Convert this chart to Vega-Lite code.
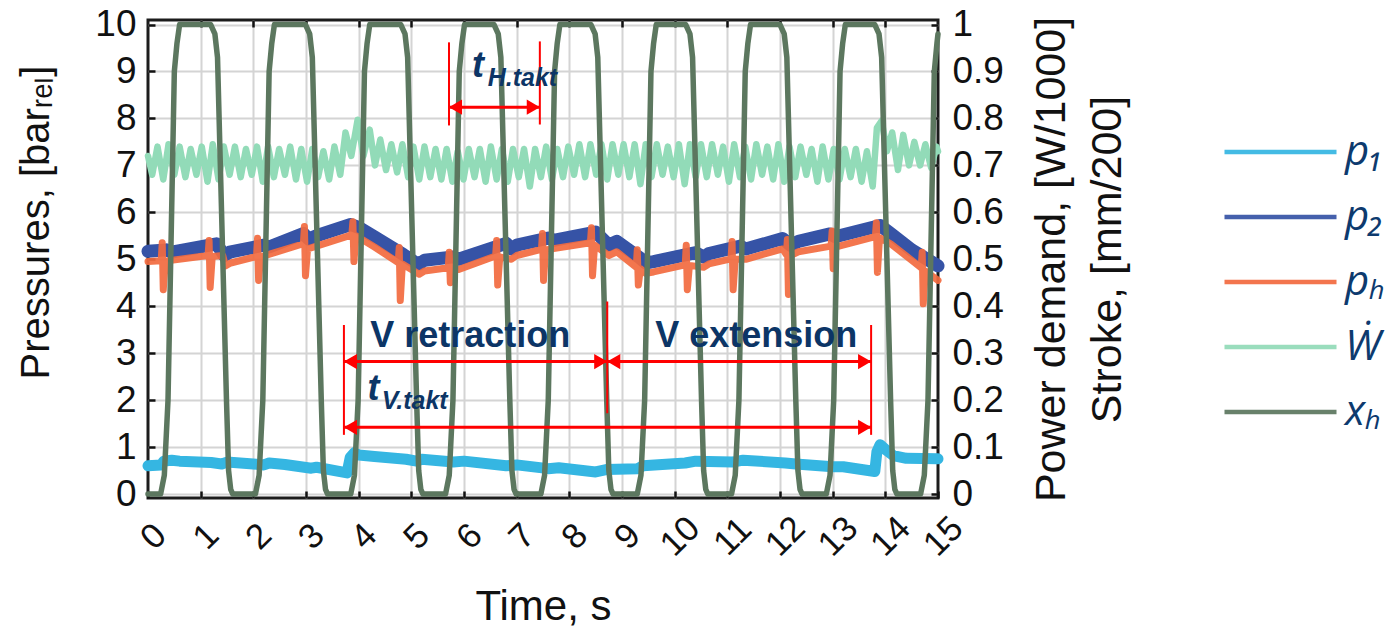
{
  "$schema": "https://vega.github.io/schema/vega-lite/v6.json",
  "width": 790,
  "height": 478,
  "autosize": {"type": "none"},
  "padding": {"left": 148, "top": 20, "right": 448, "bottom": 136},
  "background": "white",
  "config": {
    "view": {"stroke": "#1c1c1c", "strokeWidth": 3},
    "font": "Liberation Sans",
    "axis": {
      "labelFont": "Liberation Sans",
      "labelFontSize": 37,
      "labelColor": "#111111",
      "tickColor": "#111111",
      "tickWidth": 2.5,
      "tickSize": -7,
      "domain": false,
      "gridColor": "#d4d4d4",
      "gridWidth": 2,
      "titleFont": "Liberation Sans",
      "titleFontSize": 40,
      "titleFontWeight": "normal",
      "titleColor": "#111111",
      "labelFlush": false,
      "labelOverlap": false,
      "labelBound": false
    }
  },
  "datasets": {
    "p1": [
      {"t": 0.0, "v": 0.6}, {"t": 0.25, "v": 0.62}, {"t": 0.3, "v": 0.7}, {"t": 0.45, "v": 0.72},
      {"t": 0.6, "v": 0.7}, {"t": 1.2, "v": 0.67}, {"t": 1.4, "v": 0.64}, {"t": 1.5, "v": 0.68},
      {"t": 2.0, "v": 0.64}, {"t": 2.2, "v": 0.62}, {"t": 2.3, "v": 0.66}, {"t": 2.6, "v": 0.63},
      {"t": 3.1, "v": 0.55}, {"t": 3.2, "v": 0.57}, {"t": 3.78, "v": 0.45}, {"t": 3.84, "v": 0.78},
      {"t": 3.92, "v": 0.88}, {"t": 4.0, "v": 0.83}, {"t": 4.3, "v": 0.8}, {"t": 4.9, "v": 0.74},
      {"t": 5.1, "v": 0.7}, {"t": 5.2, "v": 0.74}, {"t": 5.8, "v": 0.68}, {"t": 6.0, "v": 0.7},
      {"t": 6.8, "v": 0.6}, {"t": 7.0, "v": 0.62}, {"t": 7.6, "v": 0.54}, {"t": 7.8, "v": 0.56},
      {"t": 8.5, "v": 0.47}, {"t": 8.7, "v": 0.52}, {"t": 9.3, "v": 0.54}, {"t": 9.4, "v": 0.6},
      {"t": 10.2, "v": 0.66}, {"t": 10.4, "v": 0.7}, {"t": 11.1, "v": 0.68}, {"t": 11.3, "v": 0.72},
      {"t": 12.1, "v": 0.66}, {"t": 12.3, "v": 0.64}, {"t": 13.0, "v": 0.58}, {"t": 13.2, "v": 0.58},
      {"t": 13.8, "v": 0.48}, {"t": 13.84, "v": 0.9}, {"t": 13.9, "v": 1.05}, {"t": 14.0, "v": 0.95},
      {"t": 14.15, "v": 0.82}, {"t": 14.4, "v": 0.76}, {"t": 15.0, "v": 0.75}
    ],
    "p2": [
      {"t": 0.0, "v": 5.17}, {"t": 0.35, "v": 5.2}, {"t": 0.45, "v": 5.15}, {"t": 1.3, "v": 5.33},
      {"t": 1.45, "v": 5.08}, {"t": 1.55, "v": 5.15}, {"t": 2.2, "v": 5.3}, {"t": 2.3, "v": 5.26},
      {"t": 2.95, "v": 5.55}, {"t": 3.05, "v": 5.43}, {"t": 3.2, "v": 5.5}, {"t": 3.85, "v": 5.74},
      {"t": 4.0, "v": 5.68}, {"t": 4.3, "v": 5.48}, {"t": 4.85, "v": 5.1}, {"t": 5.05, "v": 4.95},
      {"t": 5.15, "v": 4.9}, {"t": 5.25, "v": 4.98}, {"t": 5.8, "v": 5.05}, {"t": 5.9, "v": 5.0},
      {"t": 6.8, "v": 5.34}, {"t": 6.9, "v": 5.22}, {"t": 7.0, "v": 5.3}, {"t": 7.6, "v": 5.45},
      {"t": 7.7, "v": 5.4}, {"t": 8.5, "v": 5.58}, {"t": 8.75, "v": 5.3}, {"t": 8.9, "v": 5.38},
      {"t": 9.35, "v": 5.02}, {"t": 9.45, "v": 4.92}, {"t": 9.6, "v": 4.95}, {"t": 10.4, "v": 5.14},
      {"t": 10.55, "v": 5.05}, {"t": 10.65, "v": 5.12}, {"t": 11.25, "v": 5.28}, {"t": 11.35, "v": 5.22},
      {"t": 12.05, "v": 5.44}, {"t": 12.2, "v": 5.3}, {"t": 12.35, "v": 5.38}, {"t": 12.95, "v": 5.54},
      {"t": 13.05, "v": 5.48}, {"t": 13.9, "v": 5.72}, {"t": 14.1, "v": 5.55}, {"t": 14.5, "v": 5.2},
      {"t": 15.0, "v": 4.86}
    ],
    "pH": [
      {"t": 0.0, "v": 4.95}, {"t": 0.25, "v": 4.97}, {"t": 0.27, "v": 5.35}, {"t": 0.29, "v": 4.35},
      {"t": 0.33, "v": 4.96}, {"t": 1.14, "v": 5.08}, {"t": 1.16, "v": 5.4}, {"t": 1.18, "v": 4.4},
      {"t": 1.22, "v": 5.06}, {"t": 1.42, "v": 5.08}, {"t": 1.47, "v": 4.86}, {"t": 1.57, "v": 4.92},
      {"t": 2.06, "v": 5.06}, {"t": 2.08, "v": 5.45}, {"t": 2.1, "v": 4.55}, {"t": 2.14, "v": 5.05},
      {"t": 2.95, "v": 5.33}, {"t": 2.97, "v": 5.7}, {"t": 2.99, "v": 4.65}, {"t": 3.03, "v": 5.22},
      {"t": 3.2, "v": 5.28}, {"t": 3.87, "v": 5.52}, {"t": 3.89, "v": 5.8}, {"t": 3.91, "v": 4.95},
      {"t": 3.95, "v": 5.5}, {"t": 4.3, "v": 5.26}, {"t": 4.75, "v": 4.93}, {"t": 4.77, "v": 5.25},
      {"t": 4.79, "v": 4.12}, {"t": 4.83, "v": 4.9}, {"t": 5.15, "v": 4.68}, {"t": 5.25, "v": 4.75},
      {"t": 5.7, "v": 4.82}, {"t": 5.72, "v": 5.15}, {"t": 5.74, "v": 4.5}, {"t": 5.78, "v": 4.8},
      {"t": 5.9, "v": 4.78}, {"t": 6.6, "v": 5.07}, {"t": 6.62, "v": 5.4}, {"t": 6.64, "v": 4.45},
      {"t": 6.68, "v": 5.05}, {"t": 6.9, "v": 5.0}, {"t": 7.0, "v": 5.08}, {"t": 7.47, "v": 5.21},
      {"t": 7.49, "v": 5.55}, {"t": 7.51, "v": 4.55}, {"t": 7.55, "v": 5.2}, {"t": 8.4, "v": 5.35},
      {"t": 8.42, "v": 5.67}, {"t": 8.44, "v": 4.65}, {"t": 8.48, "v": 5.3}, {"t": 8.75, "v": 5.08},
      {"t": 8.9, "v": 5.16}, {"t": 9.27, "v": 4.83}, {"t": 9.29, "v": 5.2}, {"t": 9.31, "v": 4.45},
      {"t": 9.35, "v": 4.8}, {"t": 9.45, "v": 4.7}, {"t": 9.6, "v": 4.73}, {"t": 10.2, "v": 4.88},
      {"t": 10.22, "v": 5.3}, {"t": 10.24, "v": 4.35}, {"t": 10.28, "v": 4.87}, {"t": 10.55, "v": 4.83},
      {"t": 10.65, "v": 4.9}, {"t": 11.07, "v": 5.01}, {"t": 11.09, "v": 5.38}, {"t": 11.11, "v": 4.35},
      {"t": 11.15, "v": 5.0}, {"t": 11.35, "v": 5.0}, {"t": 12.05, "v": 5.22}, {"t": 12.12, "v": 5.1},
      {"t": 12.14, "v": 5.42}, {"t": 12.16, "v": 4.25}, {"t": 12.2, "v": 5.08}, {"t": 12.35, "v": 5.16},
      {"t": 12.97, "v": 5.28}, {"t": 12.99, "v": 5.6}, {"t": 13.01, "v": 4.8}, {"t": 13.05, "v": 5.26},
      {"t": 13.81, "v": 5.48}, {"t": 13.83, "v": 5.78}, {"t": 13.85, "v": 4.72}, {"t": 13.89, "v": 5.46},
      {"t": 14.1, "v": 5.33}, {"t": 14.5, "v": 4.98}, {"t": 14.68, "v": 4.82}, {"t": 14.7, "v": 5.15},
      {"t": 14.72, "v": 4.05}, {"t": 14.76, "v": 4.75}, {"t": 15.0, "v": 4.55}
    ],
    "W": [
      {"t": 0.0, "v": 0.72}, {"t": 0.08, "v": 0.68}, {"t": 0.18, "v": 0.74}, {"t": 0.29, "v": 0.67},
      {"t": 0.39, "v": 0.745}, {"t": 0.5, "v": 0.68}, {"t": 0.6, "v": 0.74}, {"t": 0.71, "v": 0.675},
      {"t": 0.81, "v": 0.735}, {"t": 0.92, "v": 0.68}, {"t": 1.02, "v": 0.74}, {"t": 1.13, "v": 0.665},
      {"t": 1.23, "v": 0.745}, {"t": 1.34, "v": 0.67}, {"t": 1.44, "v": 0.74}, {"t": 1.55, "v": 0.68},
      {"t": 1.65, "v": 0.74}, {"t": 1.76, "v": 0.675}, {"t": 1.86, "v": 0.735}, {"t": 1.97, "v": 0.68},
      {"t": 2.07, "v": 0.74}, {"t": 2.18, "v": 0.665}, {"t": 2.28, "v": 0.74}, {"t": 2.39, "v": 0.675},
      {"t": 2.49, "v": 0.735}, {"t": 2.6, "v": 0.68}, {"t": 2.7, "v": 0.74}, {"t": 2.81, "v": 0.67},
      {"t": 2.91, "v": 0.735}, {"t": 3.02, "v": 0.665}, {"t": 3.12, "v": 0.735}, {"t": 3.23, "v": 0.675},
      {"t": 3.33, "v": 0.73}, {"t": 3.44, "v": 0.67}, {"t": 3.54, "v": 0.74}, {"t": 3.65, "v": 0.68},
      {"t": 3.75, "v": 0.77}, {"t": 3.86, "v": 0.72}, {"t": 3.98, "v": 0.797}, {"t": 4.09, "v": 0.72},
      {"t": 4.21, "v": 0.776}, {"t": 4.31, "v": 0.7}, {"t": 4.41, "v": 0.755}, {"t": 4.52, "v": 0.69},
      {"t": 4.62, "v": 0.745}, {"t": 4.73, "v": 0.685}, {"t": 4.83, "v": 0.745}, {"t": 4.94, "v": 0.675},
      {"t": 5.04, "v": 0.74}, {"t": 5.15, "v": 0.67}, {"t": 5.25, "v": 0.74}, {"t": 5.36, "v": 0.675},
      {"t": 5.46, "v": 0.735}, {"t": 5.57, "v": 0.67}, {"t": 5.67, "v": 0.735}, {"t": 5.78, "v": 0.665},
      {"t": 5.88, "v": 0.73}, {"t": 5.99, "v": 0.67}, {"t": 6.09, "v": 0.735}, {"t": 6.2, "v": 0.675},
      {"t": 6.3, "v": 0.735}, {"t": 6.41, "v": 0.665}, {"t": 6.51, "v": 0.74}, {"t": 6.62, "v": 0.67},
      {"t": 6.72, "v": 0.735}, {"t": 6.83, "v": 0.665}, {"t": 6.93, "v": 0.735}, {"t": 7.04, "v": 0.675},
      {"t": 7.14, "v": 0.735}, {"t": 7.25, "v": 0.655}, {"t": 7.35, "v": 0.735}, {"t": 7.46, "v": 0.675},
      {"t": 7.56, "v": 0.74}, {"t": 7.67, "v": 0.67}, {"t": 7.77, "v": 0.735}, {"t": 7.88, "v": 0.675},
      {"t": 7.98, "v": 0.74}, {"t": 8.09, "v": 0.68}, {"t": 8.19, "v": 0.745}, {"t": 8.3, "v": 0.675},
      {"t": 8.4, "v": 0.745}, {"t": 8.51, "v": 0.68}, {"t": 8.61, "v": 0.745}, {"t": 8.72, "v": 0.67},
      {"t": 8.82, "v": 0.745}, {"t": 8.93, "v": 0.68}, {"t": 9.03, "v": 0.745}, {"t": 9.14, "v": 0.675},
      {"t": 9.24, "v": 0.745}, {"t": 9.35, "v": 0.66}, {"t": 9.45, "v": 0.745}, {"t": 9.56, "v": 0.675},
      {"t": 9.66, "v": 0.745}, {"t": 9.77, "v": 0.68}, {"t": 9.87, "v": 0.74}, {"t": 9.98, "v": 0.675},
      {"t": 10.08, "v": 0.745}, {"t": 10.19, "v": 0.66}, {"t": 10.29, "v": 0.745}, {"t": 10.4, "v": 0.675},
      {"t": 10.5, "v": 0.745}, {"t": 10.61, "v": 0.675}, {"t": 10.71, "v": 0.745}, {"t": 10.82, "v": 0.68},
      {"t": 10.92, "v": 0.74}, {"t": 11.03, "v": 0.665}, {"t": 11.13, "v": 0.745}, {"t": 11.24, "v": 0.675},
      {"t": 11.34, "v": 0.74}, {"t": 11.45, "v": 0.67}, {"t": 11.55, "v": 0.745}, {"t": 11.66, "v": 0.68},
      {"t": 11.76, "v": 0.74}, {"t": 11.87, "v": 0.67}, {"t": 11.97, "v": 0.745}, {"t": 12.08, "v": 0.665},
      {"t": 12.18, "v": 0.74}, {"t": 12.29, "v": 0.675}, {"t": 12.39, "v": 0.74}, {"t": 12.5, "v": 0.68},
      {"t": 12.6, "v": 0.735}, {"t": 12.71, "v": 0.665}, {"t": 12.81, "v": 0.74}, {"t": 12.92, "v": 0.67},
      {"t": 13.02, "v": 0.735}, {"t": 13.13, "v": 0.67}, {"t": 13.23, "v": 0.735}, {"t": 13.34, "v": 0.675},
      {"t": 13.44, "v": 0.735}, {"t": 13.55, "v": 0.665}, {"t": 13.65, "v": 0.73}, {"t": 13.76, "v": 0.655},
      {"t": 13.84, "v": 0.78}, {"t": 13.93, "v": 0.795}, {"t": 14.03, "v": 0.73}, {"t": 14.13, "v": 0.77},
      {"t": 14.24, "v": 0.69}, {"t": 14.34, "v": 0.765}, {"t": 14.45, "v": 0.7}, {"t": 14.55, "v": 0.75},
      {"t": 14.66, "v": 0.7}, {"t": 14.76, "v": 0.745}, {"t": 14.87, "v": 0.695}, {"t": 14.97, "v": 0.74},
      {"t": 15.0, "v": 0.73}
    ],
    "xH": [
      {"t": 0.0, "v": 0}, {"t": 0.24, "v": 0}, {"t": 0.31, "v": 0.04}, {"t": 0.38, "v": 0.2},
      {"t": 0.5, "v": 0.9}, {"t": 0.55, "v": 0.96}, {"t": 0.6, "v": 1.0},
      {"t": 1.19, "v": 1.0}, {"t": 1.27, "v": 0.98}, {"t": 1.32, "v": 0.93}, {"t": 1.49, "v": 0.2},
      {"t": 1.53, "v": 0.05}, {"t": 1.57, "v": 0.01}, {"t": 1.61, "v": 0},
      {"t": 2.04, "v": 0}, {"t": 2.11, "v": 0.04}, {"t": 2.18, "v": 0.2}, {"t": 2.3, "v": 0.9},
      {"t": 2.35, "v": 0.96}, {"t": 2.4, "v": 1.0},
      {"t": 2.99, "v": 1.0}, {"t": 3.07, "v": 0.98}, {"t": 3.12, "v": 0.93}, {"t": 3.29, "v": 0.2},
      {"t": 3.33, "v": 0.05}, {"t": 3.37, "v": 0.01}, {"t": 3.41, "v": 0},
      {"t": 3.85, "v": 0}, {"t": 3.92, "v": 0.04}, {"t": 3.99, "v": 0.2}, {"t": 4.11, "v": 0.9},
      {"t": 4.16, "v": 0.96}, {"t": 4.21, "v": 1.0},
      {"t": 4.8, "v": 1.0}, {"t": 4.88, "v": 0.98}, {"t": 4.93, "v": 0.93}, {"t": 5.1, "v": 0.2},
      {"t": 5.14, "v": 0.05}, {"t": 5.18, "v": 0.01}, {"t": 5.22, "v": 0},
      {"t": 5.65, "v": 0}, {"t": 5.72, "v": 0.04}, {"t": 5.79, "v": 0.2}, {"t": 5.91, "v": 0.9},
      {"t": 5.96, "v": 0.96}, {"t": 6.01, "v": 1.0},
      {"t": 6.57, "v": 1.0}, {"t": 6.65, "v": 0.98}, {"t": 6.7, "v": 0.93}, {"t": 6.87, "v": 0.2},
      {"t": 6.91, "v": 0.05}, {"t": 6.95, "v": 0.01}, {"t": 6.99, "v": 0},
      {"t": 7.46, "v": 0}, {"t": 7.53, "v": 0.04}, {"t": 7.6, "v": 0.2}, {"t": 7.72, "v": 0.9},
      {"t": 7.77, "v": 0.96}, {"t": 7.82, "v": 1.0},
      {"t": 8.41, "v": 1.0}, {"t": 8.49, "v": 0.98}, {"t": 8.54, "v": 0.93}, {"t": 8.71, "v": 0.2},
      {"t": 8.75, "v": 0.05}, {"t": 8.79, "v": 0.01}, {"t": 8.83, "v": 0},
      {"t": 9.29, "v": 0}, {"t": 9.36, "v": 0.04}, {"t": 9.43, "v": 0.2}, {"t": 9.55, "v": 0.9},
      {"t": 9.6, "v": 0.96}, {"t": 9.65, "v": 1.0},
      {"t": 10.21, "v": 1.0}, {"t": 10.29, "v": 0.98}, {"t": 10.34, "v": 0.93}, {"t": 10.51, "v": 0.2},
      {"t": 10.55, "v": 0.05}, {"t": 10.59, "v": 0.01}, {"t": 10.63, "v": 0},
      {"t": 11.08, "v": 0}, {"t": 11.15, "v": 0.04}, {"t": 11.22, "v": 0.2}, {"t": 11.34, "v": 0.9},
      {"t": 11.39, "v": 0.96}, {"t": 11.44, "v": 1.0},
      {"t": 12.0, "v": 1.0}, {"t": 12.08, "v": 0.98}, {"t": 12.13, "v": 0.93}, {"t": 12.3, "v": 0.2},
      {"t": 12.34, "v": 0.05}, {"t": 12.38, "v": 0.01}, {"t": 12.42, "v": 0},
      {"t": 12.88, "v": 0}, {"t": 12.95, "v": 0.04}, {"t": 13.02, "v": 0.2}, {"t": 13.14, "v": 0.9},
      {"t": 13.19, "v": 0.96}, {"t": 13.24, "v": 1.0},
      {"t": 13.8, "v": 1.0}, {"t": 13.88, "v": 0.98}, {"t": 13.93, "v": 0.93}, {"t": 14.1, "v": 0.2},
      {"t": 14.14, "v": 0.05}, {"t": 14.18, "v": 0.01}, {"t": 14.22, "v": 0},
      {"t": 14.67, "v": 0}, {"t": 14.74, "v": 0.04}, {"t": 14.81, "v": 0.2}, {"t": 14.93, "v": 0.9},
      {"t": 14.98, "v": 0.96}, {"t": 15.0, "v": 0.98}
    ],
    "vlines": [
      {"t": 5.715, "v": 7.85, "v2": 9.62},
      {"t": 7.44, "v": 7.87, "v2": 9.64},
      {"t": 3.72, "v": 1.26, "v2": 3.6},
      {"t": 8.72, "v": 1.72, "v2": 4.1},
      {"t": 13.73, "v": 1.26, "v2": 3.6}
    ],
    "hlines": [
      {"t": 5.715, "t2": 7.44, "v": 8.24},
      {"t": 3.72, "t2": 13.73, "v": 2.82},
      {"t": 3.72, "t2": 13.73, "v": 1.42}
    ],
    "tipsLeft": [
      {"t": 5.715, "v": 8.24}, {"t": 3.72, "v": 2.82}, {"t": 8.72, "v": 2.82}, {"t": 3.72, "v": 1.42}
    ],
    "tipsRight": [
      {"t": 7.44, "v": 8.24}, {"t": 8.72, "v": 2.82}, {"t": 13.73, "v": 2.82}, {"t": 13.73, "v": 1.42}
    ],
    "phases": [
      {"t": 6.12, "v": 3.13, "label": "V retraction"},
      {"t": 11.55, "v": 3.13, "label": "V extension"}
    ],
    "taktT": [
      {"t": 6.15, "v": 8.89, "label": "t"},
      {"t": 4.17, "v": 2.0, "label": "t"}
    ],
    "taktSub": [
      {"t": 6.45, "v": 8.68, "label": "H.takt"},
      {"t": 4.44, "v": 1.81, "label": "V.takt"}
    ]
  },
  "layer": [
    {
      "encoding": {
        "x": {
          "field": "t", "type": "quantitative",
          "scale": {"domain": [0, 15], "nice": false, "zero": false},
          "axis": {
            "orient": "bottom",
            "values": [0, 1, 2, 3, 4, 5, 6, 7, 8, 9, 10, 11, 12, 13, 14, 15],
            "grid": false,
            "labelAngle": -45,
            "labelAlign": "center",
            "labelBaseline": "middle",
            "labelFontSize": 35,
            "labelPadding": 45,
            "labelOffset": 5,
            "title": "Time, s",
            "titleFontSize": 42,
            "titlePadding": 24
          }
        },
        "y": {
          "field": "v", "type": "quantitative",
          "scale": {"domain": [-0.085, 10.096], "nice": false, "zero": false},
          "axis": {
            "orient": "left",
            "values": [0, 1, 2, 3, 4, 5, 6, 7, 8, 9, 10],
            "grid": true,
            "labelPadding": 19,
            "title": "Pressures,  [barᵣₑₗ]",
            "titlePadding": 38,
            "titleY": 202
          }
        }
      },
      "layer": [
        {
          "data": {"name": "p1"},
          "mark": {"type": "line", "strokeWidth": 11, "strokeJoin": "round", "strokeCap": "round"},
          "encoding": {
            "color": {
              "datum": "p1", "type": "nominal",
              "scale": {"domain": ["p1", "p2", "pH", "W", "xH"], "range": ["#35b6e2", "#3653a6", "#f26a3f", "#92dbb8", "#5c775f"]},
              "legend": {
                "orient": "none",
                "legendX": 1111.5,
                "legendY": 111,
                "title": null,
                "symbolType": "M-16,0H16",
                "symbolSize": 49,
                "symbolStrokeWidth": 4.5,
                "labelFont": "Open Sans",
                "labelFontStyle": "italic",
                "labelFontSize": 42,
                "labelColor": "#0d3a6e",
                "labelOffset": 43.5,
                "rowPadding": 23,
                "labelExpr": "datum.label == 'p1' ? 'p₁' : datum.label == 'p2' ? 'p₂' : datum.label == 'pH' ? 'pₕ' : datum.label == 'W' ? 'Ẇ' : 'xₕ'"
              }
            }
          }
        },
        {
          "data": {"name": "p2"},
          "mark": {"type": "line", "strokeWidth": 13, "strokeJoin": "round", "strokeCap": "round"},
          "encoding": {"color": {"datum": "p2", "type": "nominal"}}
        },
        {
          "data": {"name": "pH"},
          "mark": {"type": "line", "strokeWidth": 7, "strokeJoin": "round", "strokeCap": "round", "opacity": 0.92},
          "encoding": {"color": {"datum": "pH", "type": "nominal"}}
        }
      ]
    },
    {
      "encoding": {
        "x": {
          "field": "t", "type": "quantitative",
          "scale": {"domain": [0, 15], "nice": false, "zero": false},
          "axis": {
            "orient": "top",
            "values": [1, 2, 3, 4, 5, 6, 7, 8, 9, 10, 11, 12, 13, 14],
            "labels": false,
            "grid": true,
            "title": null
          }
        },
        "y": {
          "field": "v", "type": "quantitative",
          "scale": {"domain": [-0.0085, 1.0096], "nice": false, "zero": false},
          "axis": {
            "orient": "right",
            "values": [0, 0.1, 0.2, 0.3, 0.4, 0.5, 0.6, 0.7, 0.8, 0.9, 1],
            "format": "~g",
            "grid": false,
            "labelAlign": "left",
            "labelPadding": 21,
            "title": ["Power demand, [W/1000]", "Stroke, [mm/200]"],
            "titleFontSize": 43,
            "titleAngle": 270,
            "titleBaseline": "top",
            "titleLineHeight": 56,
            "titlePadding": -29
          }
        }
      },
      "layer": [
        {
          "data": {"name": "W"},
          "mark": {"type": "line", "strokeWidth": 6.5, "strokeJoin": "round", "strokeCap": "round"},
          "encoding": {"color": {"datum": "W", "type": "nominal"}}
        },
        {
          "data": {"name": "xH"},
          "mark": {"type": "line", "strokeWidth": 5.5, "strokeJoin": "round", "strokeCap": "round"},
          "encoding": {"color": {"datum": "xH", "type": "nominal"}}
        }
      ]
    },
    {
      "encoding": {
        "x": {"field": "t", "type": "quantitative", "scale": {"domain": [0, 15], "nice": false, "zero": false}, "axis": null},
        "y": {"field": "v", "type": "quantitative", "scale": {"domain": [-0.085, 10.096], "nice": false, "zero": false}, "axis": null}
      },
      "layer": [
        {
          "data": {"name": "vlines"},
          "mark": {"type": "rule", "color": "#ff0000", "strokeWidth": 2},
          "encoding": {"y2": {"field": "v2"}}
        },
        {
          "data": {"name": "hlines"},
          "mark": {"type": "rule", "color": "#ff0000", "strokeWidth": 3},
          "encoding": {"x2": {"field": "t2"}}
        },
        {
          "data": {"name": "tipsLeft"},
          "mark": {"type": "point", "shape": "triangle-left", "filled": true, "color": "#ff0000", "opacity": 1, "size": 230, "xOffset": 6.5, "strokeWidth": 0}
        },
        {
          "data": {"name": "tipsRight"},
          "mark": {"type": "point", "shape": "triangle-right", "filled": true, "color": "#ff0000", "opacity": 1, "size": 230, "xOffset": -6.5, "strokeWidth": 0}
        },
        {
          "data": {"name": "phases"},
          "mark": {"type": "text", "font": "Liberation Sans", "fontWeight": "bold", "fontSize": 36, "color": "#0c3566", "align": "center", "baseline": "alphabetic"},
          "encoding": {"text": {"field": "label"}}
        },
        {
          "data": {"name": "taktT"},
          "mark": {"type": "text", "font": "Liberation Sans", "fontWeight": "bold", "fontStyle": "italic", "fontSize": 36, "color": "#0c3566", "align": "left", "baseline": "alphabetic"},
          "encoding": {"text": {"field": "label"}}
        },
        {
          "data": {"name": "taktSub"},
          "mark": {"type": "text", "font": "Liberation Sans", "fontWeight": "bold", "fontStyle": "italic", "fontSize": 25, "color": "#0c3566", "align": "left", "baseline": "alphabetic"},
          "encoding": {"text": {"field": "label"}}
        }
      ]
    }
  ],
  "resolve": {"scale": {"y": "independent"}, "axis": {"x": "independent"}}
}
